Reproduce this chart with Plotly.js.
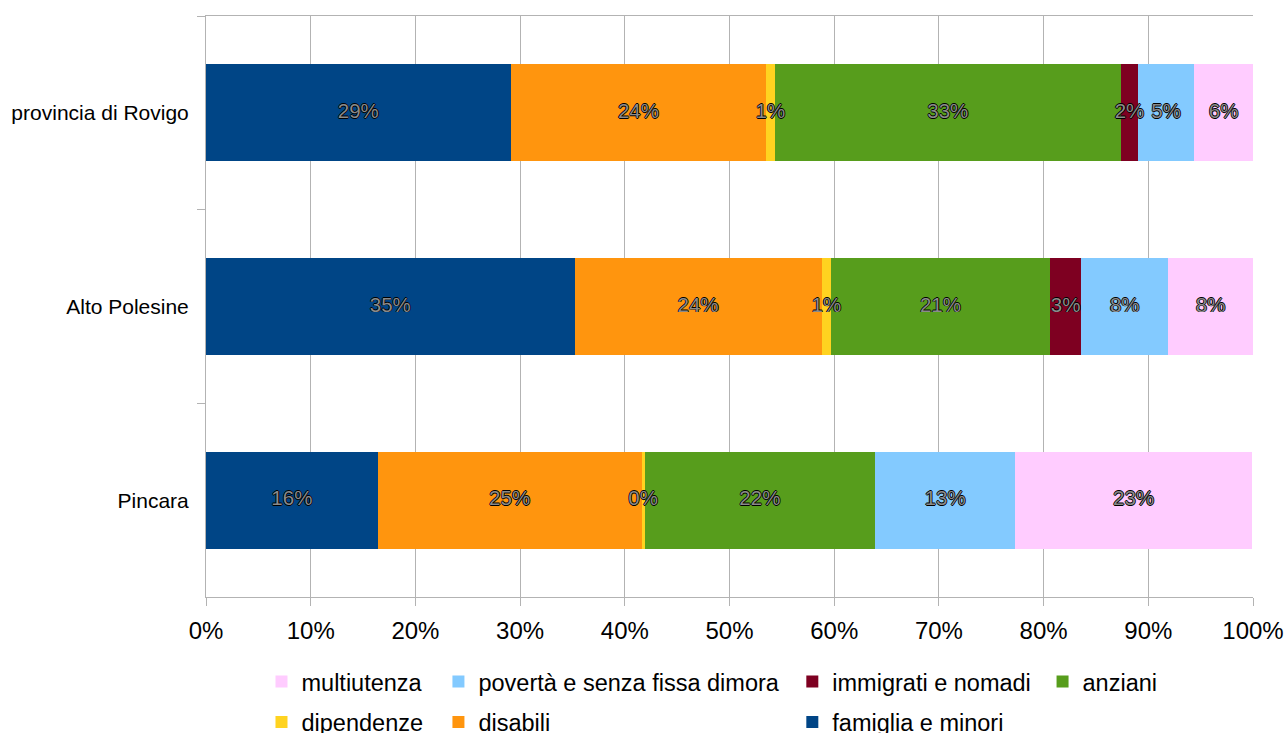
<!DOCTYPE html>
<html>
<head>
<meta charset="utf-8">
<script src="https://cdn.plot.ly/plotly-3.0.1.min.js"></script>
<style>html,body{margin:0;padding:0;background:#fff;}#chart{width:1287px;height:733px;}</style>
</head>
<body>
<div id="chart"></div>
<script>
const categories = ["provincia di Rovigo", "Alto Polesine", "Pincara"];
const famigliaMinori = [29.1, 35.2, 16.4];
const disabili = [24.4, 23.6, 25.2];
const dipendenze = [0.8, 0.9, 0.3];
const anziani = [33.1, 20.9, 22.0];
const immigratiNomadi = [1.6, 3.0, 0];
const povertaSenzaFissaDimora = [5.4, 8.3, 13.4];
const multiutenza = [5.6, 8.1, 22.6];

const seriesNames = ["famiglia e minori", "disabili", "dipendenze", "anziani", "immigrati e nomadi", "povertà e senza fissa dimora", "multiutenza"];
const seriesValues = [famigliaMinori, disabili, dipendenze, anziani, immigratiNomadi, povertaSenzaFissaDimora, multiutenza];
const seriesColors = ["#004586", "#ff950e", "#ffd320", "#579d1c", "#7e0021", "#83caff", "#ffccff"];
const seriesLegend = ["legend3", "legend2", "legend", "legend4", "legend3", "legend2", "legend"];

const FONT = "Liberation Sans, Arial, sans-serif";

const barTraces = seriesNames.map((name, i) => ({
  type: "bar",
  orientation: "h",
  name: name,
  y: categories,
  x: seriesValues[i],
  marker: {color: seriesColors[i], line: {width: 0}},
  hoverinfo: "x+y+name",
  legend: seriesLegend[i],
  legendgroup: "g" + i,
  legendrank: 100 - i
}));

// value labels drawn on top of all bars (at the middle of each stacked segment)
const labelTraces = seriesNames.map((name, i) => {
  const mids = categories.map((c, k) => {
    let start = 0;
    for (let j = 0; j < i; j++) start += seriesValues[j][k];
    return start + seriesValues[i][k] / 2;
  });
  return {
    type: "scatter",
    mode: "text",
    x: mids,
    y: categories,
    text: seriesValues[i].map(v => v > 0 ? Math.round(v) + "%" : ""),
    textposition: "middle center",
    textfont: {family: FONT, size: 20.5, color: "#8a8a8a",
               shadow: "0.8px 0 0 #000, -0.8px 0 0 #000, 0 0.8px 0 #000, 0 -0.8px 0 #000"},
    hoverinfo: "skip",
    showlegend: false,
    cliponaxis: false
  };
});

const legendBase = {
  orientation: "v", traceorder: "grouped", yanchor: "top",
  xanchor: "left", y: -0.108, font: {family: FONT, size: 23.5, color: "#000"},
  bgcolor: "rgba(0,0,0,0)", tracegroupgap: 7, itemwidth: 30
};

const layout = {
  width: 1287, height: 733,
  margin: {l: 206, r: 34, t: 16, b: 136, autoexpand: false},
  paper_bgcolor: "#fff", plot_bgcolor: "#fff",
  barmode: "stack", bargap: 0.5,
  font: {family: FONT, color: "#000"},
  showlegend: true,
  xaxis: {
    range: [0, 100], dtick: 10, ticksuffix: "%",
    showgrid: true, gridcolor: "#b3b3b3", gridwidth: 1,
    showline: true, linecolor: "#b3b3b3", linewidth: 1, mirror: true,
    ticks: "outside", ticklen: 8, tickcolor: "#b3b3b3",
    tickfont: {family: FONT, size: 24, color: "#000"},
    ticklabelstandoff: 4, automargin: false,
    zeroline: false, fixedrange: true
  },
  yaxis: {
    type: "category", categoryorder: "array", categoryarray: categories,
    autorange: "reversed",
    showgrid: false, showline: true, linecolor: "#b3b3b3", linewidth: 1,
    ticks: "outside", tickson: "boundaries", ticklen: 8, tickcolor: "#b3b3b3",
    tickfont: {family: FONT, size: 21, color: "#000"},
    ticklabelstandoff: 12, automargin: false, fixedrange: true
  },
  legend: Object.assign({}, legendBase, {x: 0.053}),
  legend2: Object.assign({}, legendBase, {x: 0.222}),
  legend3: Object.assign({}, legendBase, {x: 0.560}),
  legend4: Object.assign({}, legendBase, {x: 0.799})
};

Plotly.newPlot("chart", barTraces.concat(labelTraces), layout, {displayModeBar: false});
</script>
</body>
</html>
